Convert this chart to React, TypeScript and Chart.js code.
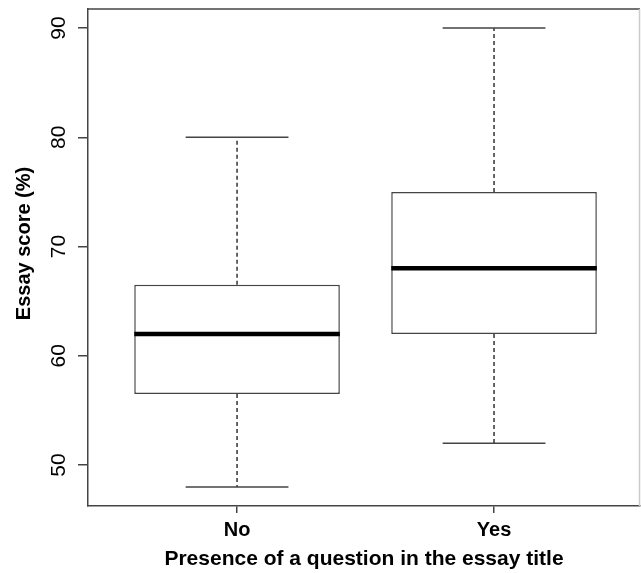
import { useEffect, useRef } from "react";
import { Chart, registerables } from "chart.js";

Chart.register(...registerables);

const categories = ["No", "Yes"];
const positions = [1, 2];
const whiskerLow = [48, 52];
const lowerQuartile = [56.5, 62];
const medians = [62, 68];
const upperQuartile = [66.5, 75];
const whiskerHigh = [80, 90];
const yTicks = [50, 60, 70, 80, 90];
const yTitle = "Essay score (%)";
const xTitle = "Presence of a question in the essay title";

const FONT = "'Liberation Sans', Arial, Helvetica, sans-serif";
const LINE = "#444444";

const boxExtras = {
  id: "boxExtras",
  afterDatasetsDraw(chart: any) {
    const ctx = chart.ctx;
    const y = chart.scales.y;
    const meta = chart.getDatasetMeta(0);
    ctx.save();
    positions.forEach((_, i) => {
      const bar = meta.data[i];
      if (!bar) return;
      const { x: cx, width } = bar.getProps(["x", "width"], true);
      const half = width / 2;
      const capHalf = width / 4;
      const pLow = y.getPixelForValue(whiskerLow[i]);
      const pQ1 = y.getPixelForValue(lowerQuartile[i]);
      const pMed = y.getPixelForValue(medians[i]);
      const pQ3 = y.getPixelForValue(upperQuartile[i]);
      const pHigh = y.getPixelForValue(whiskerHigh[i]);
      ctx.strokeStyle = "#333333";
      ctx.lineWidth = 1.5;
      ctx.setLineDash([4, 3]);
      ctx.beginPath();
      ctx.moveTo(cx, pQ3);
      ctx.lineTo(cx, pHigh);
      ctx.moveTo(cx, pQ1);
      ctx.lineTo(cx, pLow);
      ctx.stroke();
      ctx.setLineDash([]);
      ctx.strokeStyle = LINE;
      ctx.beginPath();
      ctx.moveTo(cx - capHalf, pHigh);
      ctx.lineTo(cx + capHalf, pHigh);
      ctx.moveTo(cx - capHalf, pLow);
      ctx.lineTo(cx + capHalf, pLow);
      ctx.stroke();
      ctx.strokeStyle = "#000000";
      ctx.lineWidth = 4.5;
      ctx.lineCap = "butt";
      ctx.beginPath();
      ctx.moveTo(cx - half, pMed);
      ctx.lineTo(cx + half, pMed);
      ctx.stroke();
    });
    ctx.restore();
  },
};

const frame = {
  id: "frame",
  afterDraw(chart: any) {
    const { ctx, chartArea } = chart;
    ctx.save();
    ctx.lineWidth = 1.5;
    ctx.strokeStyle = LINE;
    ctx.beginPath();
    ctx.moveTo(chartArea.left, chartArea.top);
    ctx.lineTo(chartArea.right, chartArea.top);
    ctx.stroke();
    ctx.strokeStyle = "#cccccc";
    ctx.beginPath();
    ctx.moveTo(chartArea.right - 0.5, chartArea.top);
    ctx.lineTo(chartArea.right - 0.5, chartArea.bottom);
    ctx.stroke();
    // y-axis title (R places it slightly above the plot centre)
    ctx.fillStyle = "#000000";
    ctx.font = `bold 20px ${FONT}`;
    ctx.textAlign = "center";
    ctx.textBaseline = "middle";
    ctx.translate(24, (chartArea.top + chartArea.bottom) / 2 - 14);
    ctx.rotate(-Math.PI / 2);
    ctx.fillText(yTitle, 0, 0);
    ctx.restore();
  },
};

export default function App() {
  const ref = useRef<HTMLCanvasElement | null>(null);

  useEffect(() => {
    if (!ref.current) return;
    const chart = new Chart(ref.current, {
      type: "bar",
      data: {
        datasets: [
          {
            data: positions.map((x, i) => ({ x, y: [lowerQuartile[i], upperQuartile[i]] })) as any,
            backgroundColor: "#ffffff",
            borderColor: LINE,
            borderWidth: 1.5,
            borderSkipped: false,
            categoryPercentage: 1,
            barPercentage: 0.8,
          },
        ],
      },
      options: {
        animation: false,
        responsive: false,
        devicePixelRatio: 1,
        layout: { padding: { top: 9, right: 1, left: 0, bottom: 0 } },
        plugins: {
          legend: { display: false },
          tooltip: { enabled: false },
        },
        scales: {
          x: {
            type: "linear",
            min: 0.42,
            max: 2.568,
            offset: false,
            afterBuildTicks: (s: any) => {
              s.ticks = positions.map((v) => ({ value: v }));
            },
            afterFit: (s: any) => {
              s.height = 67;
              s.paddingLeft = 0;
              s.paddingRight = 0;
            },
            ticks: {
              autoSkip: false,
              maxRotation: 0,
              padding: 5,
              color: "#000000",
              font: { family: FONT, size: 20, weight: "bold" },
              callback: (v: any) => categories[positions.indexOf(Number(v))] ?? "",
            },
            grid: {
              offset: false,
              drawOnChartArea: false,
              drawTicks: true,
              tickLength: 7,
              tickColor: LINE,
              lineWidth: 1.5,
            },
            border: { display: true, color: LINE, width: 1.5 },
            title: {
              display: true,
              text: xTitle,
              color: "#000000",
              font: { family: FONT, size: 21, weight: "bold" },
              padding: { top: 0, bottom: 1 },
            },
          },
          y: {
            type: "linear",
            min: 46.25,
            max: 91.74,
            afterBuildTicks: (s: any) => {
              s.ticks = yTicks.map((v) => ({ value: v }));
            },
            afterFit: (s: any) => {
              s.width = 88;
              s.paddingTop = 0;
              s.paddingBottom = 0;
            },
            ticks: {
              autoSkip: false,
              minRotation: 90,
              maxRotation: 90,
              crossAlign: "center",
              padding: 7,
              color: "#000000",
              font: { family: FONT, size: 21 },
            },
            grid: {
              drawOnChartArea: false,
              drawTicks: true,
              tickLength: 10,
              tickColor: LINE,
              lineWidth: 1.5,
            },
            border: { display: true, color: LINE, width: 1.5 },
            title: { display: false },
          },
        },
      } as any,
      plugins: [boxExtras, frame],
    });
    return () => chart.destroy();
  }, []);

  return (
    <div style={{ position: "absolute", left: 0, top: 0, width: 641, height: 573, background: "#ffffff" }}>
      <canvas ref={ref} width={641} height={573} style={{ display: "block" }} />
    </div>
  );
}
